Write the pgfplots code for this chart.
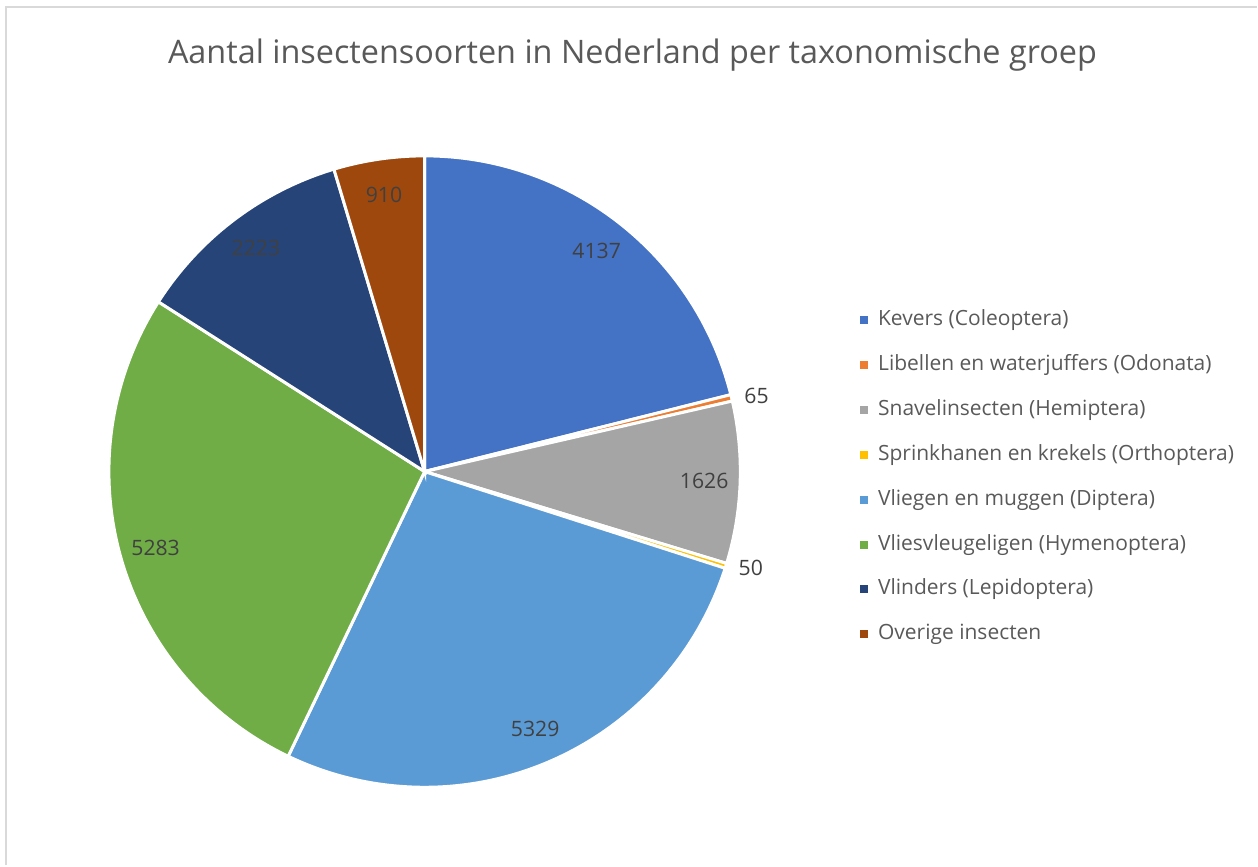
\documentclass[border=0pt]{standalone}
\usepackage{fontspec}
\setmainfont{Open Sans}
\usepackage{pgfplots}
\usepackage{pgfplotstable}
\pgfplotsset{compat=1.18}

\definecolor{cKev}{HTML}{4472C4}
\definecolor{cLib}{HTML}{ED7D31}
\definecolor{cSna}{HTML}{A5A5A5}
\definecolor{cSpr}{HTML}{FFC000}
\definecolor{cVli}{HTML}{5B9BD5}
\definecolor{cHym}{HTML}{70AD47}
\definecolor{cLep}{HTML}{264478}
\definecolor{cOve}{HTML}{9E480E}
\definecolor{txtgray}{HTML}{595959}
\definecolor{lblgray}{HTML}{404040}
\definecolor{framegray}{HTML}{D9D9D9}

% aantal soorten per groep
\pgfplotstableread{
id value
0 4137
1 65
2 1626
3 50
4 5329
5 5283
6 2223
7 910
}\insects

% cumulatieve sommen
\def\cum{0}
\expandafter\def\csname cum0\endcsname{0}
\pgfplotsforeachungrouped \i in {0,...,7}{%
  \pgfplotstablegetelem{\i}{value}\of\insects
  \expandafter\let\csname val\i\endcsname\pgfplotsretval
  \edef\cum{\fpeval{\cum+\pgfplotsretval}}%
  \edef\j{\fpeval{\i+1}}%
  \expandafter\let\csname cum\j\endcsname\cum
}
\let\total\cum

% centre (425,394), radius 316 in pixel units
\newcommand\slice[3]{%
  \edef\nxt{\fpeval{#1+1}}%
  \edef\sa{\fpeval{round(90-360*\csname cum#1\endcsname/\total,4)}}%
  \edef\ea{\fpeval{round(90-360*\csname cum\nxt\endcsname/\total,4)}}%
  \edef\tmp{\noexpand\addplot[fill=#2, draw=white, line width=1.5pt,
    domain=\ea:\sa, samples=120]
    ({425+316*cos(x)},{394+316*sin(x)}) -- (425,394) -- cycle;}%
  \tmp
  \addlegendentry{#3}
}
\newcommand\plabel[3]{%
  \edef\nxt{\fpeval{#1+1}}%
  \edef\ma{\fpeval{90-180*(\csname cum#1\endcsname+\csname cum\nxt\endcsname)/\total}}%
  \edef\lx{\fpeval{round(425+#2*cosd(\ma),3)}}%
  \edef\ly{\fpeval{round(394+#2*sind(\ma),3)}}%
  \edef\tmp{\noexpand\node[font=\noexpand\fontsize{10.6}{12}\noexpand\selectfont,
    text=lblgray, anchor=#3] at (axis cs:\lx,\ly) {\csname val#1\endcsname};}%
  \tmp
}

\begin{document}
\begin{tikzpicture}
\begin{axis}[
  scale only axis,
  width=629pt, height=433pt,
  xmin=0, xmax=1258, ymin=0, ymax=866,
  hide axis, clip=false,
  legend cell align=left,
  legend image code/.code={\fill[#1, draw=none] (0pt,-2pt) rectangle (4pt,2pt);
    \path (7.5pt,0pt);},
  legend style={draw=none, fill=none, at={(axis cs:860,388.5)}, anchor=west,
    font=\fontsize{10.5}{12}\selectfont, text=txtgray,
    row sep=11pt, inner sep=0pt,
    nodes={inner sep=1pt, text height=7.5pt, text depth=2pt}},
]
\slice{0}{cKev}{Kevers (Coleoptera)}
\slice{1}{cLib}{Libellen en waterjuffers (Odonata)}
\slice{2}{cSna}{Snavelinsecten (Hemiptera)}
\slice{3}{cSpr}{Sprinkhanen en krekels (Orthoptera)}
\slice{4}{cVli}{Vliegen en muggen (Diptera)}
\slice{5}{cHym}{Vliesvleugeligen (Hymenoptera)}
\slice{6}{cLep}{Vlinders (Lepidoptera)}
\slice{7}{cOve}{Overige insecten}

\plabel{0}{280}{center}
\plabel{1}{322}{west}
\plabel{2}{280}{center}
\plabel{3}{322}{west}
\plabel{4}{280}{center}
\plabel{5}{280}{center}
\plabel{6}{280}{center}
\plabel{7}{280}{center}

\node[font=\fontsize{16.2}{20}\selectfont, text=txtgray] at (axis cs:633,811)
  {Aantal insectensoorten in Nederland per taxonomische groep};
\draw[framegray, line width=1.15pt] (axis cs:6.3,0) -- (axis cs:6.3,858.8) -- (axis cs:1258,858.8);
\path (axis cs:0,0) rectangle (axis cs:1258,866);
\end{axis}
\end{tikzpicture}
\end{document}
